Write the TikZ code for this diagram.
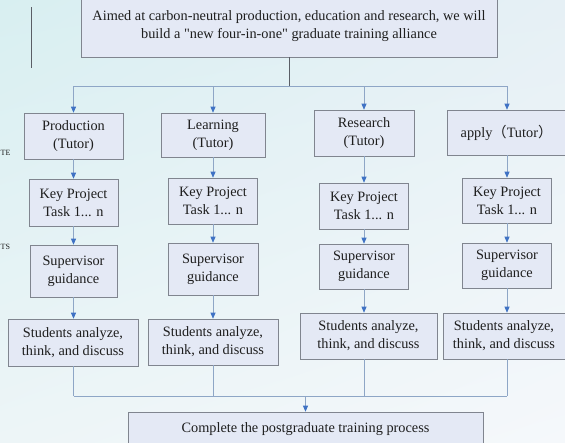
\documentclass[tikz,border=0pt]{standalone}
\usepackage{fontspec}
\setmainfont{Liberation Serif}
\newfontfamily\qfont{Liberation Serif}[Ligatures=ResetAll]
\newfontfamily\cjk{Noto Sans CJK SC}
\usetikzlibrary{arrows.meta,calc,shadings}
\definecolor{boxfill}{HTML}{E4E9F5}
\definecolor{boxdraw}{HTML}{80858F}
\definecolor{linec}{HTML}{8EA6C6}
\definecolor{tipc}{HTML}{3F72C4}
\definecolor{txt}{HTML}{1E1E1E}
\definecolor{darkline}{HTML}{5A5E66}
\definecolor{bgul}{HTML}{D8EFF1}
\definecolor{bgur}{HTML}{E6F0F5}
\definecolor{bgll}{HTML}{EDF5F7}
\definecolor{bglr}{HTML}{F5F8FB}
\tikzset{
  box/.style={draw=boxdraw, fill=boxfill, line width=0.6pt, align=center, text=txt,
    font=\fontsize{14.3}{18}\selectfont, inner sep=0pt},
  arr/.style={draw=linec, line width=0.7pt, -{Triangle[width=5pt,length=6pt,color=tipc]}},
  conn/.style={draw=linec, line width=0.7pt},
  darkconn/.style={draw=darkline, line width=1pt},
  stray/.style={text=txt, inner sep=0pt, font=\fontsize{8}{10}\selectfont},
}
\begin{document}
\begin{tikzpicture}[x=1pt,y=-1pt]
\useasboundingbox (0,0) rectangle (565,442);
\clip (0,0) rectangle (565,442);
\shade[upper left=bgul, upper right=bgur, lower left=bgll, lower right=bglr] (0,0) rectangle (565,442);

% stray slide elements
\coordinate (la) at (31,7);
\coordinate (lb) at (31,68);
\draw[darkconn] (la) -- (lb);
\node[stray, anchor=west] (te) at (0.5,153) {TE};
\node[stray, anchor=west] (ts) at (0.5,247) {TS};

% top box
\node[box, minimum width=416pt, minimum height=62pt] (top) at (289,26)
  {Aimed at carbon-neutral production, education and research, we will\\build a {\qfont"}new four-in-one{\qfont"} graduate training alliance};

% row 1
\node[box, minimum width=99pt, minimum height=46pt] (prod) at (73.5,136) {Production\\(Tutor)};
\node[box, minimum width=104pt, minimum height=44pt] (learn) at (213,135) {Learning\\(Tutor)};
\node[box, minimum width=100pt, minimum height=46pt] (res) at (364,133) {Research\\(Tutor)};
\node[box, minimum width=118pt, minimum height=45pt] (appl) at (506.5,132.5) {apply{\cjk （}Tutor{\cjk ）}};

% row 2
\node[box, minimum width=89pt, minimum height=47pt] (key1) at (73.5,202.5) {Key Project\\Task 1... n};
\node[box, minimum width=89pt, minimum height=46pt] (key2) at (213,201) {Key Project\\Task 1... n};
\node[box, minimum width=89pt, minimum height=46pt] (key3) at (364,206) {Key Project\\Task 1... n};
\node[box, minimum width=89pt, minimum height=45pt] (key4) at (507,200.5) {Key Project\\Task 1... n};

% row 3
\node[box, minimum width=87pt, minimum height=52pt] (sup1) at (73.5,271) {Supervisor\\guidance};
\node[box, minimum width=90pt, minimum height=52pt] (sup2) at (213,269) {Supervisor\\guidance};
\node[box, minimum width=89pt, minimum height=45pt] (sup3) at (364,266.5) {Supervisor\\guidance};
\node[box, minimum width=89pt, minimum height=45pt] (sup4) at (507,265.5) {Supervisor\\guidance};

% row 4
\node[box, minimum width=130pt, minimum height=47pt] (stu1) at (73,342.5) {Students analyze,\\think, and discuss};
\node[box, minimum width=130pt, minimum height=46pt] (stu2) at (213,342) {Students analyze,\\think, and discuss};
\node[box, minimum width=137pt, minimum height=46pt] (stu3) at (368.5,336) {Students analyze,\\think, and discuss};
\node[box, minimum width=122pt, minimum height=46pt] (stu4) at (504,336) {Students analyze,\\think, and discuss};

% final
\node[box, minimum width=355pt, minimum height=34pt] (comp) at (305.5,429) {Complete the postgraduate training process};

% top distribution
\coordinate (jt) at (289,86);
\draw[darkconn] (top.south) -- (jt);
\draw[conn] (prod.north |- jt) -- (sup4.north |- jt);
\draw[arr] (prod.north |- jt) -- (prod.north);
\draw[arr] (learn.north |- jt) -- (learn.north);
\draw[arr] (res.north |- jt) -- (res.north);
\draw[arr] (sup4.north |- jt) -- (sup4.north |- appl.north);

% columns
\draw[arr] (prod.south) -- (prod.south |- key1.north);
\draw[arr] (learn.south) -- (learn.south |- key2.north);
\draw[arr] (res.south) -- (res.south |- key3.north);
\draw[arr] (key4.north |- appl.south) -- (key4.north);

\draw[arr] (key1.south) -- (key1.south |- sup1.north);
\draw[arr] (key2.south) -- (key2.south |- sup2.north);
\draw[arr] (key3.south) -- (key3.south |- sup3.north);
\draw[arr] (key4.south) -- (key4.south |- sup4.north);

\draw[arr] (sup1.south) -- (sup1.south |- stu1.north);
\draw[arr] (sup2.south) -- (sup2.south |- stu2.north);
\draw[arr] (sup3.south) -- (sup3.south |- stu3.north);
\draw[arr] (sup4.south) -- (sup4.south |- stu4.north);

% bottom collection
\coordinate (bj) at (305.5,396);
\draw[conn] (sup1.south |- stu1.south) -- (sup1.south |- bj);
\draw[conn] (sup2.south |- stu2.south) -- (sup2.south |- bj);
\draw[conn] (sup3.south |- stu3.south) -- (sup3.south |- bj);
\draw[conn] (sup4.south |- stu4.south) -- (sup4.south |- bj);
\draw[conn] (sup1.south |- bj) -- (sup4.south |- bj);
\draw[arr] (bj) -- (comp.north);
\end{tikzpicture}
\end{document}
